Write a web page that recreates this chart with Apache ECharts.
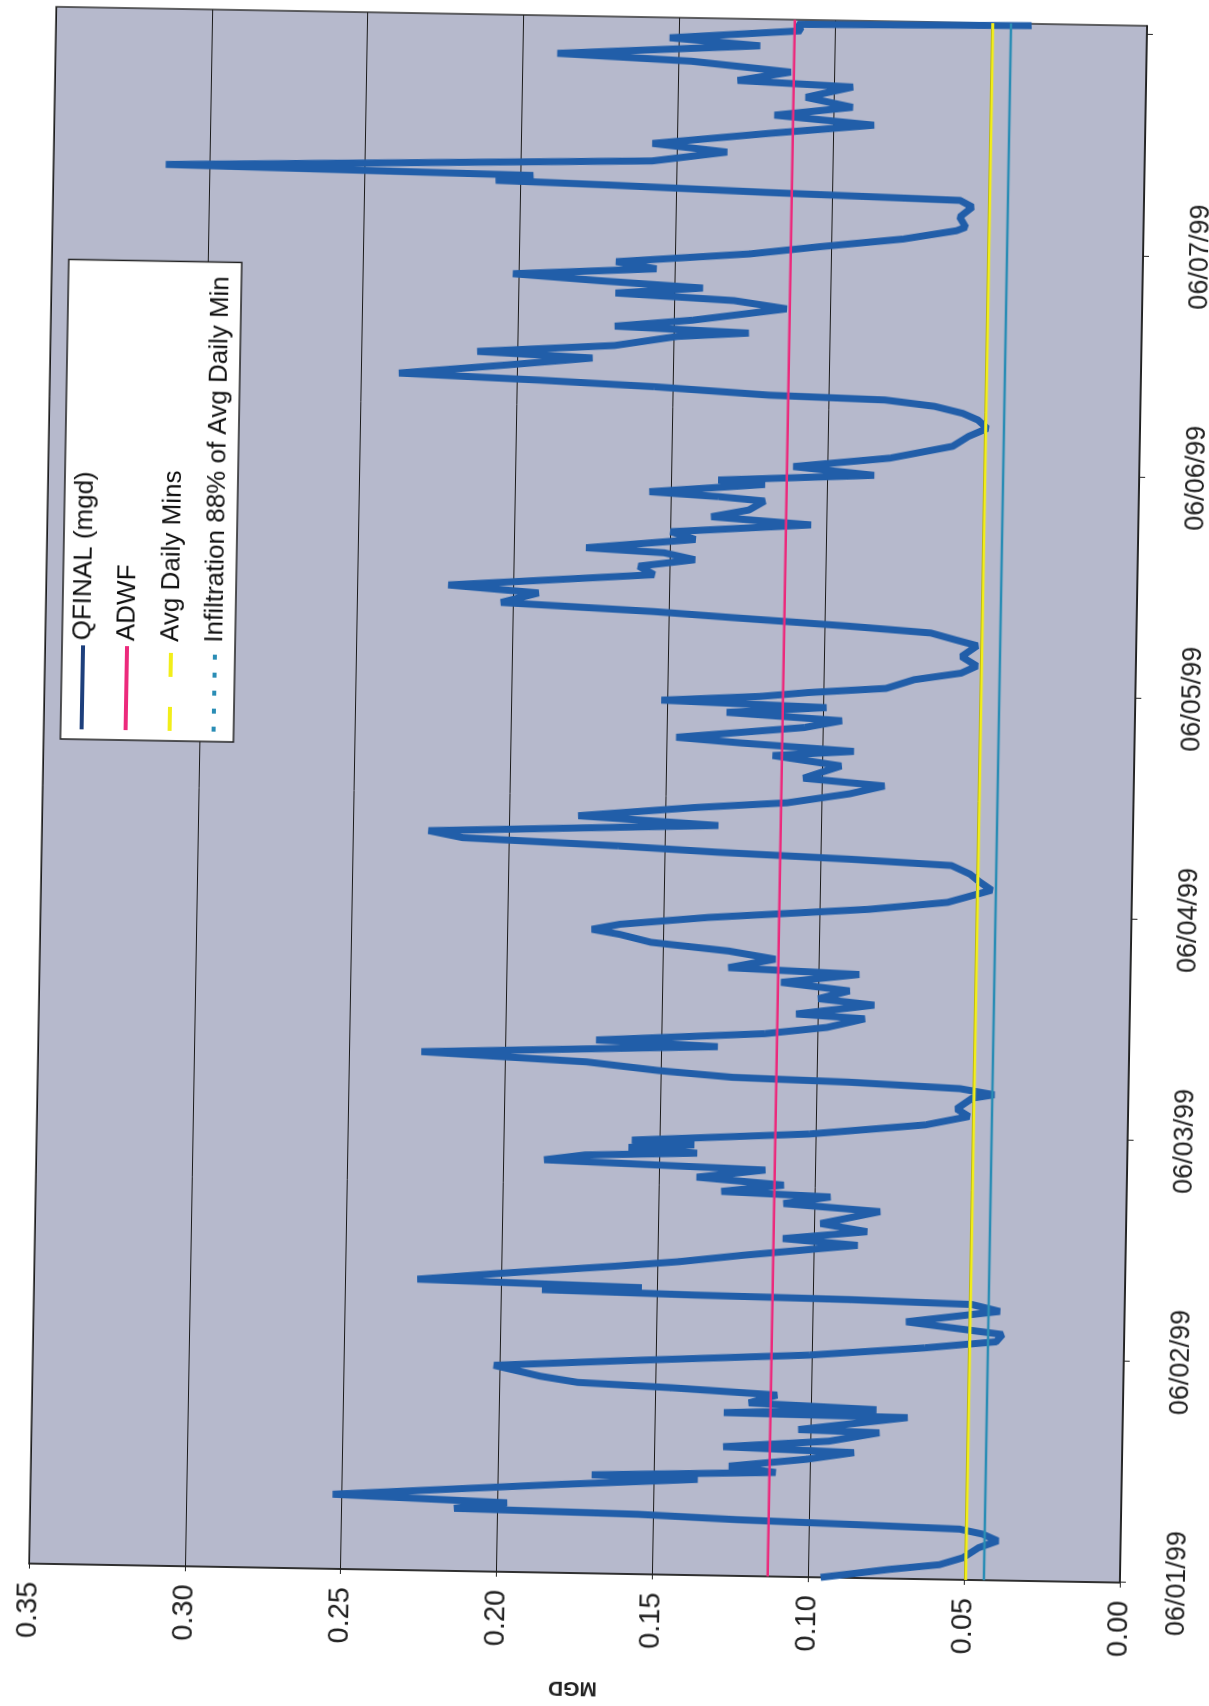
<!DOCTYPE html>
<html><head><meta charset="utf-8">
<script src="https://cdn.jsdelivr.net/npm/echarts@6/dist/echarts.min.js"></script>
<style>
html,body{margin:0;padding:0;width:1209px;height:1706px;overflow:hidden;background:#fff;}
#chart{position:absolute;left:-248.5px;top:248.5px;width:1706px;height:1209px;transform-origin:853px 604.5px;transform:rotate(-89deg);}
</style></head><body><div id="chart"></div>
<script>
// hours since 06/01/99 00:00
const hours = [0.0,1.0,1.6,2.4,3.5,4.3,5.0,5.5,5.8,6.1,6.5,6.8,7.5,8.1,8.8,9.6,10.4,10.7,11.3,11.9,12.8,13.6,14.0,14.8,15.8,16.0,17.5,17.7,18.3,18.8,19.7,20.3,20.7,21.3,22.4,23.1,
24.1,25.1,25.9,26.7,27.9,29.2,29.9,30.2,30.4,30.7,31.1,31.6,32.4,33.4,34.0,34.8,36.1,36.7,37.6,38.4,39.8,40.5,41.3,41.7,42.5,43.2,44.1,44.8,45.4,45.8,46.3,46.7,47.1,
48.1,49.3,50.3,51.1,52.3,52.7,53.3,53.8,54.1,54.7,55.5,56.3,57.4,57.9,58.9,59.7,60.7,61.1,62.2,62.8,63.7,64.5,65.5,66.0,67.0,67.8,68.6,69.4,69.9,70.5,71.4,
72.6,73.5,74.9,75.8,76.6,77.5,78.0,78.5,79.0,79.6,80.3,81.4,82.2,83.3,84.0,85.1,86.0,86.7,88.1,89.1,89.7,90.4,90.9,92.2,93.0,93.7,94.4,94.9,95.5,
96.0,96.6,97.6,98.4,99.2,100.2,101.4,102.0,102.7,103.3,104.0,104.5,105.2,106.3,107.0,108.5,109.4,110.2,110.9,111.3,112.4,113.2,114.2,114.9,115.7,116.7,117.1,117.5,118.5,118.9,119.7,
120.5,121.6,123.0,124.1,125.0,125.9,126.6,127.3,127.9,128.2,128.9,129.4,129.9,131.0,131.9,132.4,133.3,134.4,134.9,135.4,136.2,137.6,138.4,139.0,139.7,140.3,140.9,141.7,142.4,143.5,
144.4,145.4,146.4,146.8,147.9,149.0,149.7,149.9,150.2,150.7,151.0,151.6,152.1,153.4,154.5,155.3,156.6,157.7,158.6,159.6,160.6,161.8,162.3,163.3,164.3,164.9,166.1,166.8,167.8,168.5,168.8];
const qfinal = [0.096,0.074,0.058,0.0505,0.0456,0.0394,0.0443,0.0517,0.086,0.123,0.155,0.214,0.197,0.253,0.219,0.180,0.136,0.170,0.111,0.126,0.101,0.086,0.128,0.094,0.078,0.104,0.069,0.128,0.079,0.120,0.111,0.145,0.175,0.187,0.202,0.163,
0.101,0.064,0.041,0.039,0.070,0.040,0.049,0.088,0.138,0.187,0.155,0.227,0.200,0.163,0.143,0.123,0.086,0.110,0.083,0.098,0.079,0.110,0.095,0.130,0.110,0.138,0.116,0.187,0.174,0.138,0.160,0.139,0.159,
0.102,0.065,0.051,0.055,0.050,0.043,0.054,0.090,0.127,0.151,0.174,0.227,0.132,0.171,0.117,0.097,0.085,0.107,0.082,0.100,0.090,0.112,0.087,0.129,0.114,0.129,0.154,0.164,0.173,0.164,0.136,
0.084,0.059,0.045,0.049,0.052,0.058,0.091,0.133,0.165,0.215,0.226,0.133,0.178,0.141,0.111,0.091,0.080,0.106,0.094,0.116,0.090,0.126,0.147,0.106,0.094,0.131,0.099,0.152,0.120,
0.105,0.080,0.071,0.056,0.051,0.056,0.051,0.058,0.066,0.093,0.130,0.155,0.204,0.192,0.221,0.155,0.160,0.142,0.152,0.177,0.142,0.150,0.105,0.137,0.125,0.120,0.135,0.157,0.120,0.135,0.085,
0.111,0.080,0.060,0.055,0.049,0.052,0.057,0.066,0.082,0.119,0.156,0.193,0.238,0.203,0.176,0.213,0.169,0.149,0.126,0.169,0.144,0.114,0.131,0.169,0.141,0.174,0.202,0.156,0.169,0.126,
0.104,0.077,0.060,0.057,0.059,0.055,0.059,0.084,0.121,0.171,0.208,0.196,0.314,0.158,0.134,0.158,0.121,0.087,0.119,0.094,0.109,0.094,0.131,0.114,0.146,0.189,0.124,0.153,0.111,0.112,0.037];
const refHours = [0, 169];
const adwf = [0.113, 0.113];
const avgDailyMins = [0.0495, 0.0495];
const infiltration = [0.0436, 0.0436];
const dateLabels = ['06/01/99','06/02/99','06/03/99','06/04/99','06/05/99','06/06/99','06/07/99'];
const seriesNames = ['QFINAL (mgd)','ADWF','Avg Daily Mins','Infiltration 88% of Avg Daily Min'];

const zip = (xs, ys) => xs.map((x, i) => [x, ys[i]]);
const chart = echarts.init(document.getElementById('chart'), null, {renderer: 'canvas'});
const font = "'Liberation Sans', Arial, sans-serif";
const hide = {opacity: 0};
chart.setOption({
  animation: false,
  backgroundColor: '#ffffff',
  textStyle: {fontFamily: font},
  grid: {left: 130, right: 16, top: 41, bottom: 77, show: true, backgroundColor: '#b6b9cc', borderColor: '#333', borderWidth: 1.5},
  legend: {
    orient: 'vertical', left: 958, top: 58,
    backgroundColor: '#ffffff', borderColor: '#222', borderWidth: 1.5,
    padding: [7, 14, 6, 8], itemWidth: 84, itemHeight: 14, itemGap: 16,
    textStyle: {fontSize: 26, color: '#111', fontFamily: font, lineHeight: 28},
    data: [
      {name: seriesNames[0], itemStyle: hide, lineStyle: {width: 4, color: '#1d3f7c'}},
      {name: seriesNames[1], itemStyle: hide, lineStyle: {width: 4}},
      {name: seriesNames[2], itemStyle: hide, lineStyle: {width: 4, type: [24, 30]}},
      {name: seriesNames[3], itemStyle: hide, lineStyle: {width: 4, type: [5, 13]}}
    ]
  },
  xAxis: {
    type: 'value', min: 0, max: 169, interval: 24,
    axisLine: {show: true, lineStyle: {color: '#222', width: 1.5}},
    axisTick: {show: true, length: 6, lineStyle: {color: '#222'}},
    splitLine: {show: false},
    axisLabel: {margin: 44, fontSize: 27, color: '#222', fontFamily: font, showMaxLabel: false,
      formatter: v => dateLabels[Math.round(v / 24)] || ''}
  },
  yAxis: {
    type: 'value', min: 0, max: 0.35, interval: 0.05,
    name: 'MGD', nameLocation: 'middle', nameGap: 104, nameRotate: 90,
    nameTextStyle: {fontSize: 21, fontWeight: 'bold', color: '#222', fontFamily: font},
    axisLine: {show: true, lineStyle: {color: '#222', width: 1.5}},
    axisTick: {show: true, length: 5, lineStyle: {color: '#222'}},
    splitLine: {show: true, lineStyle: {color: '#1a1a1a', width: 1}},
    axisLabel: {margin: 18, fontSize: 29, color: '#222', fontFamily: font, formatter: v => v.toFixed(2)}
  },
  series: [
    {name: seriesNames[0], type: 'line', data: zip(hours, qfinal), symbol: 'none', lineStyle: {color: '#215ea9', width: 7}, itemStyle: {color: '#1d3f7c'}},
    {name: seriesNames[1], type: 'line', data: zip(refHours, adwf), symbol: 'none', lineStyle: {color: '#ec2a7c', width: 2.5}, itemStyle: {color: '#ec2a7c'}},
    {name: seriesNames[2], type: 'line', data: zip(refHours, avgDailyMins), symbol: 'none', lineStyle: {color: '#f2ee1a', width: 3}, itemStyle: {color: '#f2ee1a'}},
    {name: seriesNames[3], type: 'line', data: zip(refHours, infiltration), symbol: 'none', lineStyle: {color: '#2a8db5', width: 2.5}, itemStyle: {color: '#2a8db5'}}
  ]
});
</script></body></html>
